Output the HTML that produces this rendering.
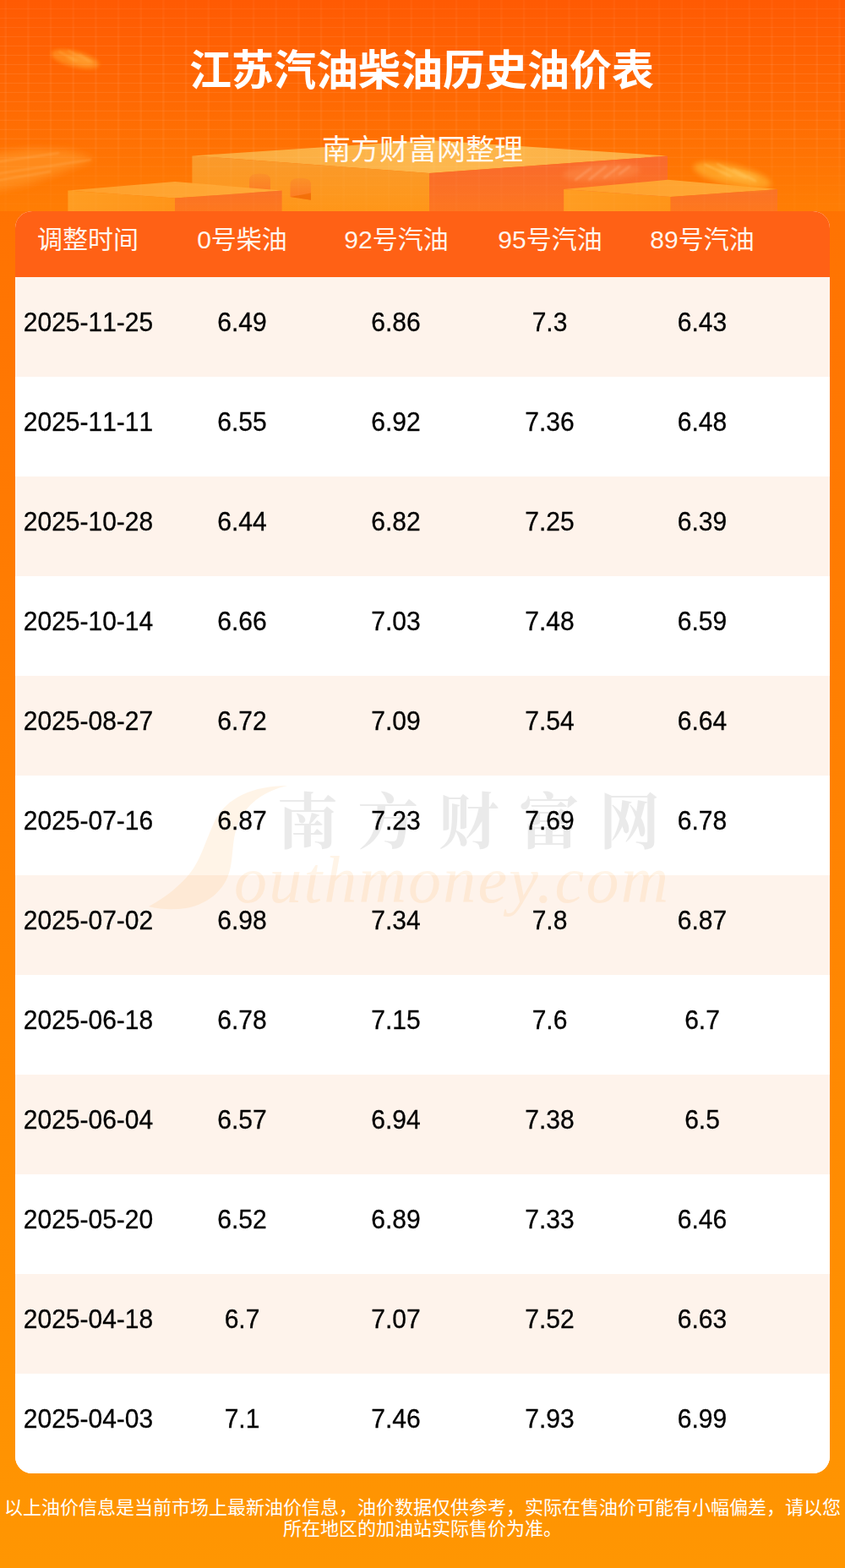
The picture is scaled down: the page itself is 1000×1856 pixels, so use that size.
<!DOCTYPE html>
<html lang="zh-CN">
<head>
<meta charset="utf-8">
<title>江苏汽油柴油历史油价表</title>
<style>
*{margin:0;padding:0;box-sizing:border-box}
html,body{width:1000px;height:1856px;overflow:hidden}
body{font-family:"Liberation Sans","Noto Sans CJK SC",sans-serif;background:#ff8204}
#page{position:relative;width:1000px;height:1856px;overflow:hidden;background:linear-gradient(180deg,#ff6d02 0,#ff9602 100%)}
#hero{position:absolute;left:0;top:0;width:1000px;height:250px;overflow:hidden;background:linear-gradient(180deg,#ff5a03 0,#ff6a03 50%,#ff7e04 100%)}
#hero svg{position:absolute;left:0;top:0}
.t{position:absolute;color:#fff;font-family:"Liberation Sans","Noto Sans CJK SC",sans-serif;font-weight:normal;white-space:nowrap;text-align:center;overflow:hidden}
#card{position:absolute;left:18px;top:250px;width:964px;height:1494px;border-radius:20px;overflow:hidden;background:#fff}
#thead{position:absolute;left:0;top:0;width:964px;height:78px;background:#ff6115}
.r{position:absolute;left:0;width:964px;height:118px;background:#fff}
.r.o{background:#fef3eb}
.c{position:absolute;z-index:2;top:0;width:182px;height:118px;line-height:107px;font-size:30px;color:#000;text-align:center;white-space:nowrap;font-kerning:none;-webkit-text-stroke:.3px #000;transform:scaleY(1.02);transform-origin:50% 64px}
#wm{position:absolute;left:0;top:0;z-index:1;pointer-events:none}
#foot{position:absolute;left:0;top:1772px;width:1000px;font-size:22px;line-height:25px;text-align:center}
</style>
</head>
<body>
<div id="page">
<div id="hero">
<svg width="1000" height="250" viewBox="0 0 1000 250">
<defs>
<linearGradient id="gTop" x1="0" y1="0" x2="1" y2="0"><stop offset="0" stop-color="#fba83a"/><stop offset=".5" stop-color="#fdb84e"/><stop offset="1" stop-color="#fcae42"/></linearGradient>
<linearGradient id="gL" x1="0" y1="0" x2="0" y2="1"><stop offset="0" stop-color="#fa9a2c"/><stop offset="1" stop-color="#ff9618"/></linearGradient>
<linearGradient id="gR" x1="0" y1="0" x2="0" y2="1"><stop offset="0" stop-color="#f9692d"/><stop offset="1" stop-color="#fd7620"/></linearGradient>
<linearGradient id="sTop" x1="0" y1="0" x2="1" y2="0"><stop offset="0" stop-color="#ff9f2a"/><stop offset="1" stop-color="#ffaa38"/></linearGradient>
<linearGradient id="sL" x1="0" y1="0" x2="1" y2="0"><stop offset="0" stop-color="#ff9d22"/><stop offset="1" stop-color="#ff9418"/></linearGradient>
<linearGradient id="sR" x1="0" y1="0" x2="0" y2="1"><stop offset="0" stop-color="#fa7226"/><stop offset="1" stop-color="#fe781e"/></linearGradient>
<linearGradient id="gW" x1="0" y1="0" x2="0" y2="1"><stop offset="0" stop-color="#fb9028"/><stop offset="1" stop-color="#fd7a22"/></linearGradient>
<linearGradient id="gGrid" gradientUnits="userSpaceOnUse" x1="0" y1="0" x2="0" y2="250"><stop offset="0" stop-color="#fff" stop-opacity=".05"/><stop offset=".3" stop-color="#fff" stop-opacity=".1"/><stop offset=".68" stop-color="#fff" stop-opacity=".085"/><stop offset=".85" stop-color="#fff" stop-opacity=".035"/><stop offset="1" stop-color="#fff" stop-opacity=".02"/></linearGradient>
<filter id="b2" x="-30%" y="-30%" width="160%" height="160%"><feGaussianBlur stdDeviation="2.200"/></filter>
<filter id="b3" x="-30%" y="-30%" width="160%" height="160%"><feGaussianBlur stdDeviation="3"/></filter>
<filter id="b5" x="-30%" y="-50%" width="160%" height="200%"><feGaussianBlur stdDeviation="5"/></filter>
<filter id="b1" x="-30%" y="-30%" width="160%" height="160%"><feGaussianBlur stdDeviation="1.2"/></filter>
</defs>
<!-- big block -->
<path d="M227.4 184.4L508 166L790 184.5L508 205Z" fill="url(#gTop)"/>
<path d="M227.4 184.4L508 205V250H227.4Z" fill="url(#gL)"/>
<path d="M508 205L790 184.5V250H508Z" fill="url(#gR)"/>
<!-- windows -->
<path d="M295 230V213Q295 205.6 307.500 205.600Q320 205.600 320 213V230Z" fill="url(#gW)"/>
<path d="M343.500 232.900V218Q343.500 210.800 355.700 210.800Q368 210.800 368 218V236.800Z" fill="url(#gW)"/>
<path d="M343.500 232.900L368 228.500V236.800Z" fill="#f47008"/>
<!-- streak on big block right face -->
<g transform="rotate(-4 712 204)" opacity=".55"><ellipse cx="712" cy="204" rx="46" ry="10" fill="#fd9a56" opacity=".7" filter="url(#b3)"/><path d="M680 211l20-13M696 212l22-15M714 211l20-13M732 208l14-9" stroke="#ffc79a" stroke-width="2.200" opacity=".7" filter="url(#b1)" fill="none"/></g>
<!-- left small block -->
<path d="M80.400 225.500L207 215L333.600 225.500L207 234.500Z" fill="url(#sTop)"/>
<path d="M80.400 225.500L207 234.500V250H80.400Z" fill="url(#sL)"/>
<path d="M207 234.500L333.600 225.500V250H207Z" fill="url(#sR)"/>
<!-- right small block -->
<path d="M667.200 224L790.400 212.800L920 224L793.600 233Z" fill="url(#sTop)"/>
<path d="M667.200 224L793.600 233V250H667.200Z" fill="url(#sL)"/>
<path d="M793.600 233L920 224V250H793.600Z" fill="url(#sR)"/>
<!-- decorative streaks -->
<g transform="rotate(14 89 70)"><ellipse cx="89" cy="70" rx="29" ry="9.500" fill="#ff8a1a" opacity=".9" filter="url(#b2)"/><ellipse cx="95" cy="70" rx="16" ry="4.500" fill="#ffa030" opacity=".7" filter="url(#b2)"/><path d="M68 66l24 6M78 62l28 7M92 63l18 6" stroke="#ffb04a" stroke-width="1.500" opacity=".5" filter="url(#b1)" fill="none"/></g>
<g filter="url(#b5)" opacity=".7"><path d="M-20 183L40 176L80 178L112 188L75 203L30 219L-20 229Z" fill="#ff9426"/></g><g filter="url(#b1)" opacity=".35" stroke="#ffb868" stroke-width="2" fill="none"><path d="M-5 192L70 181M-5 206L108 189M-5 214L60 203"/></g>
<g transform="rotate(13 866 206)"><ellipse cx="867" cy="207.500" rx="47" ry="12" fill="#ffa428" opacity=".9" filter="url(#b3)"/><ellipse cx="874" cy="206" rx="24" ry="5" fill="#ffbe48" opacity=".7" filter="url(#b3)"/><path d="M832 202l34 7M846 198l38 9M866 200l30 8" stroke="#ffd070" stroke-width="1.600" opacity=".5" filter="url(#b1)" fill="none"/></g>
<!-- grid -->
<path d="M6.7 0V250M33.4 0V250M60.0 0V250M86.7 0V250M113.4 0V250M140.1 0V250M166.7 0V250M193.4 0V250M220.1 0V250M246.7 0V250M273.4 0V250M300.1 0V250M326.7 0V250M353.4 0V250M380.1 0V250M406.8 0V250M433.4 0V250M460.1 0V250M486.8 0V250M513.4 0V250M540.1 0V250M566.8 0V250M593.4 0V250M620.1 0V250M646.8 0V250M673.5 0V250M700.1 0V250M726.8 0V250M753.5 0V250M780.1 0V250M806.8 0V250M833.5 0V250M860.1 0V250M886.8 0V250M913.5 0V250M940.2 0V250M966.8 0V250M993.5 0V250" stroke="url(#gGrid)" stroke-width="2.400" stroke-opacity=".55" fill="none"/>
<path d="M0 10.5H1000M0 21.5H1000M0 32.5H1000M0 43.5H1000M0 54.4H1000M0 65.4H1000M0 76.4H1000M0 87.4H1000M0 98.4H1000M0 109.4H1000M0 120.3H1000M0 131.3H1000M0 142.3H1000M0 153.3H1000M0 164.3H1000M0 175.3H1000M0 186.3H1000M0 197.2H1000M0 208.2H1000M0 219.2H1000M0 230.2H1000M0 241.2H1000" stroke="url(#gGrid)" stroke-opacity=".9" stroke-width="1" fill="none"/>
</svg>
</div>
<h1 class="t" style="left:224px;top:56px;width:550px;font-size:50px;line-height:56px;font-weight:bold;color:#fff">江苏汽油柴油历史油价表</h1>
<div class="t" style="left:381px;top:157px;width:238px;font-size:34px;line-height:40px;color:#fff8f0">南方财富网整理</div>
<div id="card">
<div id="thead">
<div class="t" style="left:26px;top:16px;width:120px;font-size:30px;line-height:36px;color:#fff5ec">调整时间</div>
<div class="t" style="left:215px;top:16px;width:107px;font-size:30px;line-height:36px;color:#fff5ec">0号柴油</div>
<div class="t" style="left:389px;top:16px;width:124px;font-size:30px;line-height:36px;color:#fff5ec">92号汽油</div>
<div class="t" style="left:571px;top:16px;width:124px;font-size:30px;line-height:36px;color:#fff5ec">95号汽油</div>
<div class="t" style="left:751px;top:16px;width:124px;font-size:30px;line-height:36px;color:#fff5ec">89号汽油</div>
</div>
<div class="r o" style="top:78px"><div class="c" style="left:-4.5px">2025-11-25</div><div class="c" style="left:177.5px">6.49</div><div class="c" style="left:359.5px">6.86</div><div class="c" style="left:541.5px">7.3</div><div class="c" style="left:722.0px">6.43</div></div>
<div class="r" style="top:196px"><div class="c" style="left:-4.5px">2025-11-11</div><div class="c" style="left:177.5px">6.55</div><div class="c" style="left:359.5px">6.92</div><div class="c" style="left:541.5px">7.36</div><div class="c" style="left:722.0px">6.48</div></div>
<div class="r o" style="top:314px"><div class="c" style="left:-4.5px">2025-10-28</div><div class="c" style="left:177.5px">6.44</div><div class="c" style="left:359.5px">6.82</div><div class="c" style="left:541.5px">7.25</div><div class="c" style="left:722.0px">6.39</div></div>
<div class="r" style="top:432px"><div class="c" style="left:-4.5px">2025-10-14</div><div class="c" style="left:177.5px">6.66</div><div class="c" style="left:359.5px">7.03</div><div class="c" style="left:541.5px">7.48</div><div class="c" style="left:722.0px">6.59</div></div>
<div class="r o" style="top:550px"><div class="c" style="left:-4.5px">2025-08-27</div><div class="c" style="left:177.5px">6.72</div><div class="c" style="left:359.5px">7.09</div><div class="c" style="left:541.5px">7.54</div><div class="c" style="left:722.0px">6.64</div></div>
<div class="r" style="top:668px"><div class="c" style="left:-4.5px">2025-07-16</div><div class="c" style="left:177.5px">6.87</div><div class="c" style="left:359.5px">7.23</div><div class="c" style="left:541.5px">7.69</div><div class="c" style="left:722.0px">6.78</div></div>
<div class="r o" style="top:786px"><div class="c" style="left:-4.5px">2025-07-02</div><div class="c" style="left:177.5px">6.98</div><div class="c" style="left:359.5px">7.34</div><div class="c" style="left:541.5px">7.8</div><div class="c" style="left:722.0px">6.87</div></div>
<div class="r" style="top:904px"><div class="c" style="left:-4.5px">2025-06-18</div><div class="c" style="left:177.5px">6.78</div><div class="c" style="left:359.5px">7.15</div><div class="c" style="left:541.5px">7.6</div><div class="c" style="left:722.0px">6.7</div></div>
<div class="r o" style="top:1022px"><div class="c" style="left:-4.5px">2025-06-04</div><div class="c" style="left:177.5px">6.57</div><div class="c" style="left:359.5px">6.94</div><div class="c" style="left:541.5px">7.38</div><div class="c" style="left:722.0px">6.5</div></div>
<div class="r" style="top:1140px"><div class="c" style="left:-4.5px">2025-05-20</div><div class="c" style="left:177.5px">6.52</div><div class="c" style="left:359.5px">6.89</div><div class="c" style="left:541.5px">7.33</div><div class="c" style="left:722.0px">6.46</div></div>
<div class="r o" style="top:1258px"><div class="c" style="left:-4.5px">2025-04-18</div><div class="c" style="left:177.5px">6.7</div><div class="c" style="left:359.5px">7.07</div><div class="c" style="left:541.5px">7.52</div><div class="c" style="left:722.0px">6.63</div></div>
<div class="r" style="top:1376px"><div class="c" style="left:-4.5px">2025-04-03</div><div class="c" style="left:177.5px">7.1</div><div class="c" style="left:359.5px">7.46</div><div class="c" style="left:541.5px">7.93</div><div class="c" style="left:722.0px">6.99</div></div>
<svg id="wm" width="964" height="1494" viewBox="0 0 964 1494">
<g opacity=".078"><text x="310" y="748" font-family="'Liberation Serif','Noto Serif CJK SC',serif" font-weight="bold" font-size="72" fill="#000" textLength="453" lengthAdjust="spacing">南方财富网</text></g>
<path fill="#ffa030" fill-opacity=".115" d="M322.0 680.0C282.0 680.0 250.0 694.0 236.0 722.0C225.0 746.0 220.0 766.0 208.0 782.0C196.0 798.0 178.0 812.0 158.0 823.0C174.0 827.0 188.0 827.0 202.0 825.0C228.0 820.0 248.0 804.0 254.0 780.0C259.0 758.0 256.0 740.0 266.0 720.0C276.0 700.0 296.0 686.0 322.0 680.0Z"/>
<text x="259" y="818" font-family="Liberation Serif,serif" font-style="italic" font-size="78" fill="#ffa030" fill-opacity=".115" textLength="514" lengthAdjust="spacing">outhmoney.com</text>
</svg>
</div>
<p id="foot" class="t" style="color:#fff">以上油价信息是当前市场上最新油价信息，油价数据仅供参考，实际在售油价可能有小幅偏差，请以您<br>所在地区的加油站实际售价为准。</p>
</div>
</body>
</html>
